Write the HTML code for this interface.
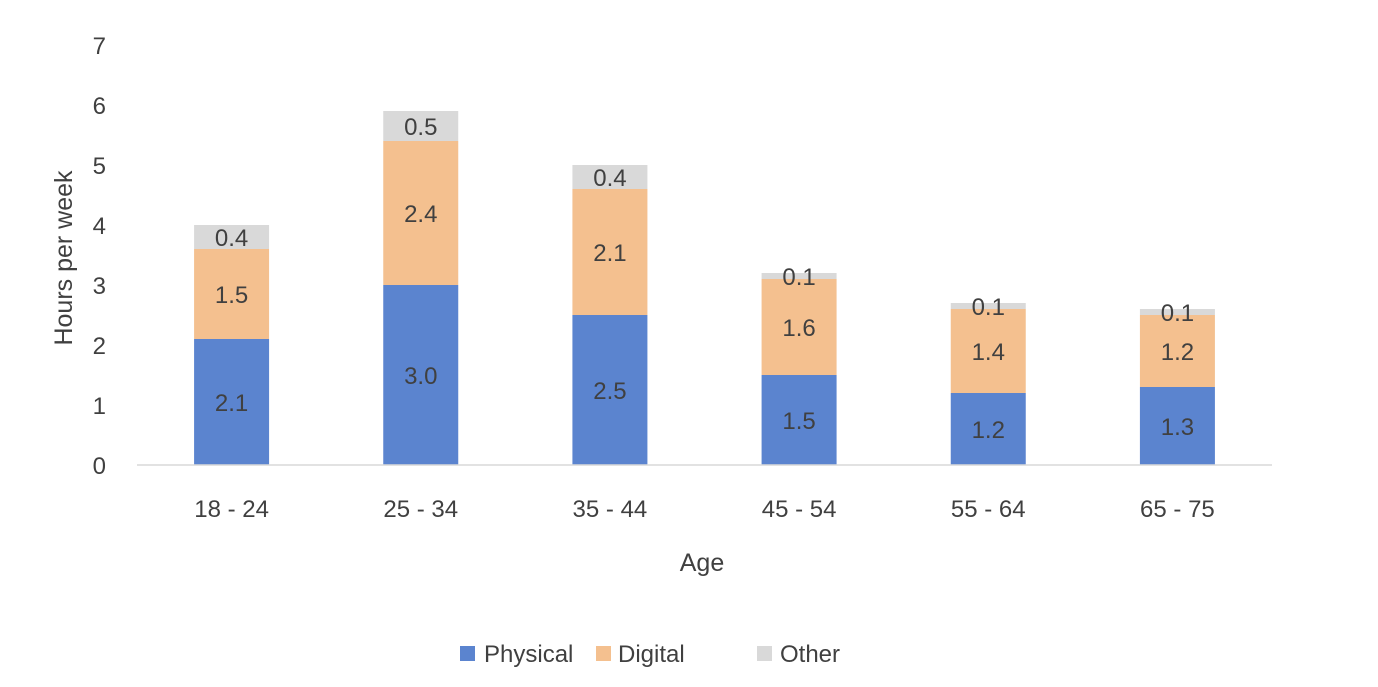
<!DOCTYPE html>
<html><head><meta charset="utf-8"><style>
html,body{margin:0;padding:0;background:#fff;}
svg text{font-family:"Liberation Sans",sans-serif;fill:#404040;}
</style></head><body>
<svg width="1378" height="682" viewBox="0 0 1378 682" xmlns="http://www.w3.org/2000/svg">
<g id="yticks"></g>
<g id="bars"></g>
<line x1="137" y1="465" x2="1272" y2="465" stroke="#d9d9d9" stroke-width="1.5"/>
<g id="xlabels"></g>
<text x="702" y="571" font-size="25" text-anchor="middle">Age</text>
<text transform="translate(72,258) rotate(-90)" font-size="25" text-anchor="middle">Hours per week</text>
<g>
<g><rect x="460" y="646" width="15" height="15" fill="#5b84cf"/><text x="484" y="662" font-size="24">Physical</text></g>
<g><rect x="596" y="646" width="15" height="15" fill="#f4c08f"/><text x="618" y="662" font-size="24">Digital</text></g>
<g><rect x="757" y="646" width="15" height="15" fill="#d9d9d9"/><text x="780" y="662" font-size="24">Other</text></g>
</g>
</svg>
<script>
const categories=["18 - 24","25 - 34","35 - 44","45 - 54","55 - 64","65 - 75"];
const physical=[2.1,3.0,2.5,1.5,1.2,1.3];
const digital=[1.5,2.4,2.1,1.6,1.4,1.2];
const other=[0.4,0.5,0.4,0.1,0.1,0.1];
const yTicks=[0,1,2,3,4,5,6,7];
const NS="http://www.w3.org/2000/svg";
const x0=137,x1=1272,y0=465,perUnit=60,barW=75;
const band=(x1-x0)/categories.length;
const xc=i=>x0+band*(i+0.5);
const ys=v=>y0-v*perUnit;
function mk(tag,attrs,parent){const e=document.createElementNS(NS,tag);for(const k in attrs)e.setAttribute(k,attrs[k]);parent.appendChild(e);return e;}
const yg=document.getElementById('yticks');
yTicks.forEach(t=>{const e=mk('text',{x:106,y:ys(t)+9,'font-size':24,'text-anchor':'end'},yg);e.textContent=t;

});
const bg=document.getElementById('bars'),xg=document.getElementById('xlabels');
const series=[[physical,'#5b84cf','physical'],[digital,'#f4c08f','digital'],[other,'#d9d9d9','other']];
categories.forEach((c,i)=>{
 let base=0;
 series.forEach(([arr,col,nm])=>{
  const v=arr[i];
  const r=mk('rect',{x:xc(i)-barW/2,y:ys(base+v),width:barW,height:v*perUnit,fill:col},bg);
  
  
  const t=mk('text',{x:xc(i),y:ys(base+v/2)+9,'font-size':24,'text-anchor':'middle'},bg);
  t.textContent=v.toFixed(1);
  
  
  base+=v;
 });
 const l=mk('text',{x:xc(i),y:517,'font-size':24,'text-anchor':'middle'},xg);
 l.textContent=c;
 
 
});
</script>
</body></html>
